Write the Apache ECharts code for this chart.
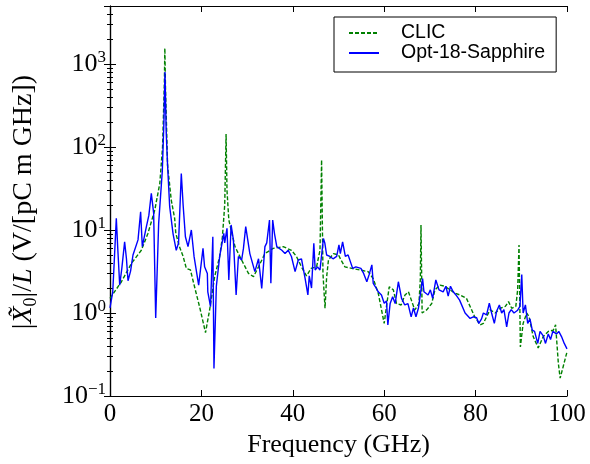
<!DOCTYPE html>
<html>
<head>
<meta charset="utf-8">
<script src="https://cdn.jsdelivr.net/npm/echarts@6/dist/echarts.min.js"></script>
<style>
  html, body { margin: 0; padding: 0; background: #ffffff; }
  #chart { width: 590px; height: 464px; }
</style>
</head>
<body>
<div id="chart"></div>
<script>
// Wakefield spectrum |X0|/L versus frequency for two structures.
const seriesNames = ['CLIC', 'Opt-18-Sapphire'];

const clicFreq = [0, 2.5, 4.7, 6.85, 8.3, 9.8, 10.9, 11.5, 11.9, 12.0, 12.15, 12.6, 13.4, 14.15, 14.4, 15.2, 16.0, 16.7, 17.6, 18.5,
  19.6, 20.9, 21.8, 22.9, 24.0, 24.6, 25.1, 25.4, 25.6, 26.0, 27.35, 28.8, 30.3, 31.4, 32.5, 33.9, 35.7, 37.9, 39.7, 40.8,
  41.9, 43.0, 44.0, 45.2, 45.95, 46.3, 46.6, 47.05, 47.4, 47.8, 48.9, 50.0, 50.5, 51.4, 52.9, 54.7, 56.5, 57.6, 58.7, 59.4,
  60.0, 60.5, 61.1, 62.0, 62.7, 63.7, 64.55, 65.3, 66.0, 66.7, 67.6, 67.9, 68.05, 68.3, 69.3, 70.4, 71.1, 72.2, 73.3, 74.4,
  75.5, 76.6, 78.0, 79.1, 79.8, 81.0, 81.7, 82.4, 83.15, 84.3, 85.4, 86.5, 87.2, 87.9, 88.8, 89.2, 89.5, 89.8, 90.4, 91.2,
  91.7, 92.6, 93.7, 94.8, 95.9, 97.0, 97.5, 98.1, 98.5, 99.2, 100];
const clicVal = [1.5, 2.38, 3.97, 5.7, 9.1, 17.4, 36.5, 100, 600, 1550, 500, 60, 23, 13.8, 9.1, 6.3, 4.8, 3.45, 3.3, 2.07,
  1.19, 0.58, 1.09, 2.74, 4.8, 8.3, 20, 143, 30, 13.2, 6.3, 4.35, 3.0, 2.74, 3.6, 5.2, 6.0, 6.3, 5.7, 4.8,
  3.6, 2.8, 3.45, 3.6, 5.7, 70, 3, 1.14, 2.7, 4.35, 5.2, 5.0, 4.4, 3.6, 3.45, 3.3, 3.15, 2.6, 1.73, 1.1,
  0.75, 1.2, 2.07, 1.9, 1.3, 1.25, 1.65, 1.8, 1.4, 1.09, 1.3, 2.5, 11.5, 1.0, 1.09, 1.3, 1.9, 2.17, 2.1, 1.9,
  1.73, 1.65, 1.5, 1.1, 0.9, 0.72, 0.75, 0.9, 1.09, 1.0, 1.14, 1.2, 1.37, 1.14, 1.2, 1.9, 6.6, 0.39, 0.75, 1.0,
  0.9, 0.52, 0.38, 0.52, 0.6, 0.62, 0.72, 0.25, 0.164, 0.23, 0.34];

const optFreq = [0, 0.6, 1.0, 1.38, 1.7, 2.12, 2.6, 3.2, 3.6, 3.94, 4.5, 5.03, 6.13, 6.7, 7.07, 7.95, 8.5, 9.04, 9.55, 10.0,
  10.65, 11.45, 11.8, 12.03, 12.3, 12.6, 13.06, 13.8, 14.5, 15.0, 15.6, 16.0, 16.5, 17.07, 17.8, 18.4, 19.4, 20.35, 20.7, 21.3,
  21.4, 22.0, 22.5, 22.75, 23.27, 24.0, 24.3, 24.9, 25.1, 25.6, 26.0, 26.5, 27.0, 27.6, 28.1, 28.8, 29.2, 29.7, 30.6, 31.7,
  32.5, 33.2, 33.9, 34.3, 34.9, 35.2, 35.6, 36.0, 36.5, 36.8, 37.6, 38.3, 39.0, 39.7, 40.5, 41.2, 41.9, 42.7, 43.3, 43.6,
  44.1, 44.6, 44.9, 45.4, 45.95, 46.7, 47.0, 47.4, 48.1, 48.8, 49.6, 50.1, 50.4, 50.9, 51.5, 52.1, 53.1, 53.8, 54.9, 55.5,
  56.2, 56.7, 57.3, 57.6, 58.0, 58.7, 59.4, 60.0, 60.5, 60.8, 61.3, 61.85, 62.4, 63.1, 63.8, 64.5, 65.2, 65.9, 66.4, 66.95,
  67.5, 68.05, 68.4, 68.7, 69.1, 69.6, 70.1, 70.6, 71.3, 72.0, 72.9, 73.5, 74.0, 74.5, 75.1, 75.7, 76.5, 77.7, 78.8, 79.5,
  80.2, 80.7, 81.3, 81.7, 82.4, 83.0, 83.5, 84.1, 84.6, 85.2, 85.7, 86.2, 86.8, 87.3, 87.8, 88.4, 89.2, 89.7, 90.1, 90.4,
  90.9, 91.4, 91.9, 92.4, 92.9, 93.6, 94.1, 94.8, 95.3, 95.9, 96.4, 96.9, 97.7, 98.2, 98.8, 99.4, 100];
const optVal = [1.15, 1.8, 5, 13.8, 6, 2.17, 3.5, 7.2, 4.5, 2.45, 3.2, 5.0, 7.6, 16.6, 6.3, 10.9, 15, 27.6, 16, 0.87,
  12.1, 52, 200, 800, 150, 60, 19.1, 9, 5.7, 7, 48, 20, 8.3, 6.3, 10.0, 4.77, 2.17, 6.0, 3.6, 3.0,
  1.8, 1.19, 8.3, 0.215, 2.1, 4.8, 5.0, 9.1, 7, 10.5, 2.5, 11.5, 7.6, 1.65, 4.8, 4.35, 6, 11, 5.2, 3.15,
  4.5, 1.98, 6.3, 7, 13.2, 2.28, 13.2, 9, 6.3, 6.6, 5.7, 5.2, 5.7, 4.8, 3.15, 4.35, 4.5, 2.6, 1.65, 2.8,
  2.0, 6.9, 3.3, 3.6, 3.3, 7.9, 7, 5, 4.8, 4.5, 4.8, 6.6, 5.2, 7.2, 4.8, 5.0, 3.45, 3.6, 3.45, 3.0,
  2.38, 2.9, 3.8, 2.28, 2.1, 1.8, 1.65, 1.31, 1.4, 0.72, 1.3, 1.57, 1.3, 2.38, 1.5, 1.25, 1.3, 0.9, 1.15, 0.9,
  1.15, 1.9, 2.6, 1.8, 1.9, 1.65, 1.9, 1.5, 2.5, 1.9, 1.8, 2.1, 1.6, 2.1, 1.8, 1.65, 1.43, 1.0, 0.86, 0.9,
  0.88, 0.75, 0.85, 1.0, 0.95, 1.31, 1.0, 0.75, 1.05, 1.25, 1.0, 1.1, 0.68, 1.0, 1.1, 1.0, 1.08, 1.2, 2.9, 1.0,
  1.25, 0.75, 0.85, 0.62, 0.6, 0.43, 0.6, 0.53, 0.43, 0.56, 0.48, 0.6, 0.56, 0.6, 0.52, 0.43, 0.37];

const xTicks = { min: 0, max: 100, interval: 20 };
const yRange = { min: 0.1, max: 5000 };

const pairs = (xs, ys) => xs.map((x, i) => [x, ys[i]]);

const serif = 'Liberation Serif';
const chart = echarts.init(document.getElementById('chart'), null, { renderer: 'canvas' });

function powerLabel(v) {
  const lg = Math.log10(v);
  const e = Math.round(lg);
  if (Math.abs(lg - e) > 1e-6) return '';
  const exp = e < 0 ? '\u2212' + Math.abs(e) : String(e);
  return '{b|10}{s|' + exp + '}';
}

const tickCommon = { show: true, inside: true, length: 6, lineStyle: { color: '#000', width: 1 } };
const lineCommon = { show: true, lineStyle: { color: '#000', width: 1.2 } };
const minorCommon = { show: true, splitNumber: 9, length: 3, lineStyle: { color: '#000', width: 1 } };

chart.setOption({
  animation: false,
  backgroundColor: '#ffffff',
  grid: { left: 110, right: 23, top: 6, bottom: 68, containLabel: false },
  legend: {
    orient: 'vertical',
    left: 334,
    top: 17,
    data: seriesNames,
    backgroundColor: '#ffffff',
    borderColor: '#000000',
    borderWidth: 1,
    borderRadius: 0,
    padding: [6, 11, 9, 14],
    itemWidth: 30,
    itemHeight: 19,
    itemGap: 0,
    itemStyle: { opacity: 0 },
    formatter: name => '{t|' + name + '}',
    textStyle: {
      fontFamily: 'Liberation Sans', fontSize: 19.5, color: '#000', lineHeight: 19,
      rich: { t: { fontFamily: 'Liberation Sans', fontSize: 19.5, color: '#000', lineHeight: 19, padding: [0, 0, 0, 17] } }
    }
  },
  xAxis: [
    {
      type: 'value', position: 'bottom', min: xTicks.min, max: xTicks.max, interval: xTicks.interval,
      name: 'Frequency (GHz)', nameLocation: 'middle', nameGap: 30,
      nameTextStyle: { fontFamily: serif, fontSize: 26, color: '#000' },
      axisLine: lineCommon, axisTick: tickCommon, splitLine: { show: false },
      axisLabel: { fontFamily: serif, fontSize: 25, color: '#000', margin: 6 }
    },
    {
      type: 'value', position: 'top', min: xTicks.min, max: xTicks.max, interval: xTicks.interval,
      axisLine: lineCommon, axisTick: tickCommon, splitLine: { show: false }, axisLabel: { show: false }
    }
  ],
  yAxis: [
    {
      type: 'log', logBase: 10, position: 'left', min: yRange.min, max: yRange.max,
      name: '|{i|X\u0303}{sub|0}|/{i|L} (V/[pC m GHz])', nameLocation: 'middle', nameGap: 70,
      nameTextStyle: {
        fontFamily: serif, fontSize: 28, color: '#000', lineHeight: 32, padding: [0, 2, 0, 0],
        rich: {
          i: { fontFamily: serif, fontSize: 28, fontStyle: 'italic', color: '#000', lineHeight: 32 },
          sub: { fontFamily: serif, fontSize: 18, color: '#000', lineHeight: 18, verticalAlign: 'bottom' }
        }
      },
      axisLine: lineCommon, axisTick: tickCommon, minorTick: minorCommon, splitLine: { show: false },
      axisLabel: {
        margin: 4, formatter: powerLabel,
        rich: {
          b: { fontFamily: serif, fontSize: 26, color: '#000', lineHeight: 30 },
          s: { fontFamily: serif, fontSize: 17, color: '#000', lineHeight: 17, verticalAlign: 'top' }
        }
      }
    },
    {
      type: 'log', logBase: 10, position: 'right', min: yRange.min, max: yRange.max,
      axisLine: lineCommon, axisTick: tickCommon, minorTick: minorCommon, splitLine: { show: false },
      axisLabel: { show: false }
    }
  ],
  series: [
    {
      name: seriesNames[0], type: 'line', xAxisIndex: 0, yAxisIndex: 0,
      data: pairs(clicFreq, clicVal), showSymbol: false, symbol: 'none',
      lineStyle: { color: '#008000', width: 1.4, type: [4, 2] },
      itemStyle: { color: '#008000' }
    },
    {
      name: seriesNames[1], type: 'line', xAxisIndex: 0, yAxisIndex: 0,
      data: pairs(optFreq, optVal), showSymbol: false, symbol: 'none',
      lineStyle: { color: '#0000ff', width: 1.4 },
      itemStyle: { color: '#0000ff' }
    }
  ]
});
</script>
</body>
</html>
